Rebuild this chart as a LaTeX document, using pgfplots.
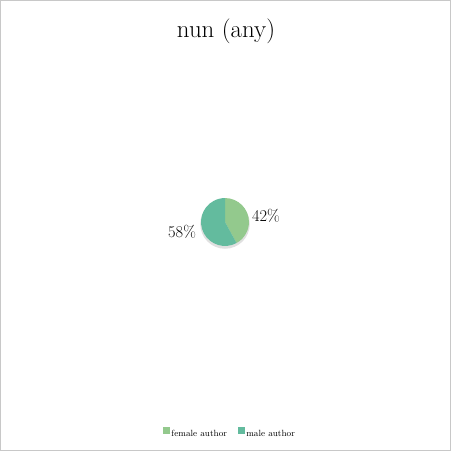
\documentclass[border=0pt]{standalone}
\usepackage{pgfplots}
\usepackage{pgfplotstable}
\pgfplotsset{compat=1.18}
\definecolor{femalecol}{HTML}{93C98D}
\definecolor{malecol}{HTML}{63BB9E}
\definecolor{framecol}{HTML}{C8C8C8}
\pgfplotstableread{
label value
female 42
male 58
}\piedata
\begin{document}
\begin{tikzpicture}
\begin{axis}[
  width=451bp, height=451bp, scale only axis,
  xmin=0, xmax=451, ymin=0, ymax=451,
  axis lines=box, xtick=\empty, ytick=\empty,
  axis line style={framecol, line width=0.8bp},
  clip=false,
  legend style={at={(axis cs:230,17)}, anchor=center, draw=none, fill=none,
    legend columns=2, font=\fontsize{9}{10}\selectfont,
    /tikz/every even column/.append style={column sep=9bp}},
  legend image code/.code={\fill[#1] (0bp,0.5bp) rectangle (6bp,6.5bp);},
]
\addlegendimage{femalecol}
\addlegendentry{female author}
\addlegendimage{malecol}
\addlegendentry{male author}
\pgfplotstablegetelem{0}{value}\of\piedata
\pgfmathsetmacro{\af}{360*\pgfplotsretval/100}
\pgfmathsetmacro{\endf}{90-\af}
% shadow
\fill[black!12] (axis cs:225,227) circle[radius=24.8bp];
\fill[femalecol] (axis cs:225,229) -- ++(90:24bp) arc[start angle=90, end angle=\endf, radius=24bp] -- cycle;
\fill[malecol] (axis cs:225,229) -- ++(\endf:24bp) arc[start angle=\endf, end angle=-270, radius=24bp] -- cycle;
\node[font=\fontsize{16.5}{18}\selectfont] at (axis cs:266,235) {42\%};
\node[font=\fontsize{16.5}{18}\selectfont] at (axis cs:182,219) {58\%};
\node[font=\fontsize{25}{30}\selectfont] at (axis cs:226,420) {nun (any)};
\end{axis}
\end{tikzpicture}
\end{document}
